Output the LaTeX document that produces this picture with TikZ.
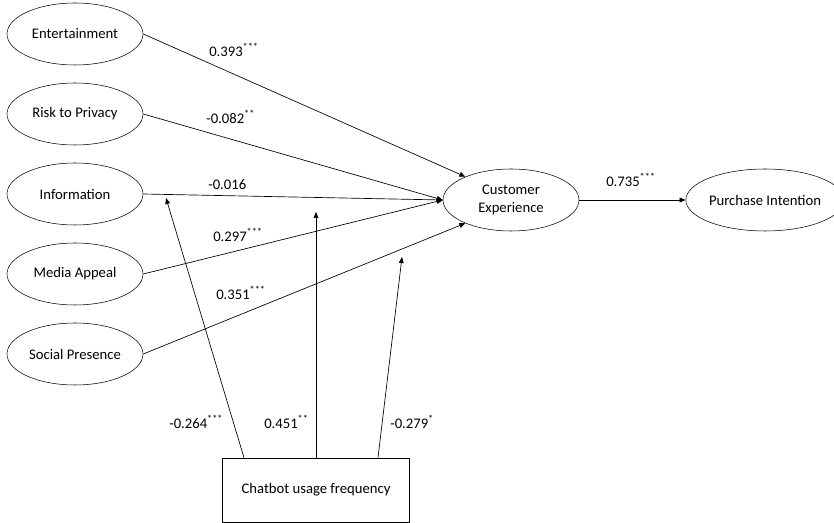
\documentclass[tikz,border=0pt]{standalone}
\usepackage{fontspec}
\setmainfont{Carlito}
\usepackage{tikz}
\usetikzlibrary{arrows.meta,positioning,shapes.geometric}

\tikzset{
  construct/.style={draw,ellipse,inner sep=0pt,minimum width=102pt,minimum height=46.5pt,align=center},
  freqbox/.style={draw,rectangle,inner sep=0pt,minimum width=140pt,minimum height=48pt},
  path/.style={-{Triangle[length=4.5pt,width=3.6pt]},line width=0.5pt},
  coef/.style={anchor=west,inner sep=0pt}
}

\begin{document}
\begin{tikzpicture}[x=0.75pt,y=-0.75pt,font=\fontsize{11}{13}\selectfont]
\useasboundingbox (0,0) rectangle (834,523);
% antecedents
\foreach \i/\n/\t in {0/ent/Entertainment,1/risk/Risk to Privacy,2/info/Information,3/media/Media Appeal,4/soc/Social Presence}{
  \node[construct] (\n) at (75,34+\i*80) {\t};
}
\node[construct] (ce) at (511,200) {Customer\\Experience};
\node[construct] (pi) at (765,200) {Purchase Intention};
\node[freqbox] (freq) at (316,490) {Chatbot usage frequency};

% paths into customer experience
\draw[path] (ent.east) -- (ce.153);
\draw[path] (risk.east) -- (ce.west);
\draw[path] (info.east) -- (ce.west);
\draw[path] (media.east) -- (ce.west);
\draw[path] (soc.east) -- (ce.207);
\draw[path] (ce.east) -- (pi.west);

% moderation
\coordinate (m1) at (166,198);
\coordinate (m2) at (316,212);
\coordinate (m3) at (402,257);
\draw[path] (freq.north -| 244,0) -- (m1);
\draw[path] (freq.north) -- (m2);
\draw[path] (freq.north -| 378,0) -- (m3);

% coefficients
\node[coef] (c1) at (209,50) {0.393\textsuperscript{***}};
\node[coef] (c2) at (206,117) {-0.082\textsuperscript{**}};
\node[coef] (c3) at (208,185) {-0.016};
\node[coef] (c4) at (213,235) {0.297\textsuperscript{***}};
\node[coef] (c5) at (216,293) {0.351\textsuperscript{***}};
\node[coef] (c6) at (606,180) {0.735\textsuperscript{***}};
\node[coef] (c7) at (169,422) {-0.264\textsuperscript{***}};
\node[coef] (c8) at (264,422) {0.451\textsuperscript{**}};
\node[coef] (c9) at (390,422) {-0.279\textsuperscript{*}};
\end{tikzpicture}
\end{document}
